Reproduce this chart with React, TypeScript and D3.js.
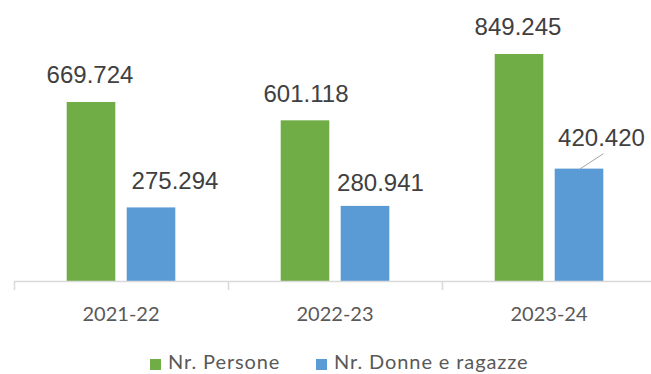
import React from "react";
import * as d3 from "d3";

// Anni scolastici e valori (numero di persone / donne e ragazze)
const categories = ["2021-22", "2022-23", "2023-24"];
const seriesNames = ["Nr. Persone", "Nr. Donne e ragazze"];
const persone = [669724, 601118, 849245];
const donne = [275294, 280941, 420420];

const COLORS = ["#70AD47", "#5B9BD5"];

const W = 651;
const H = 374;
const BASE_Y = 281;

// Spostamenti manuali delle etichette dati (dx dal centro della barra, dy sopra la barra)
const labelNudges = [
  [{ dx: -1, dy: 18.5 }, { dx: 24, dy: 18 }],
  [{ dx: 1, dy: 18 }, { dx: 15.5, dy: 15 }],
  [{ dx: -1, dy: 19 }, { dx: 22.5, dy: 23, leader: true }],
];

const fmt = (v: number) => d3.format(",")(v).replace(/,/g, ".");

export default function App() {
  const x = d3.scaleBand<string>().domain(categories).range([14, 656]);
  const xs = d3
    .scaleBand<string>()
    .domain(seriesNames)
    .range([0, x.bandwidth()])
    .paddingInner(0.19)
    .paddingOuter(0.878);
  const y = d3.scaleLinear().domain([0, 1000000]).range([BASE_Y, BASE_Y - 267.3]);

  const series = [persone, donne];

  return (
    <svg
      width={W}
      height={H}
      style={{ position: "absolute", left: 0, top: 0, background: "#fff" }}
    >
      <rect width={W} height={H} fill="#fff" />
      {categories.map((c, ci) =>
        series.map((vals, si) => {
          const bx = (x(c) ?? 0) + (xs(seriesNames[si]) ?? 0);
          const bw = xs.bandwidth();
          const top = y(vals[ci]);
          const n = labelNudges[ci][si] as { dx: number; dy: number; leader?: boolean };
          const lx = bx + bw / 2 + n.dx;
          const ly = top - n.dy;
          return (
            <g key={`${c}-${si}`}>
              <rect x={bx} y={top} width={bw} height={BASE_Y - top} fill={COLORS[si]} />
              {n.leader && (
                <line
                  x1={lx + 2}
                  y1={ly + 8}
                  x2={bx + bw / 2}
                  y2={top + 1}
                  stroke="#a6a6a6"
                  strokeWidth={1}
                />
              )}
              <text
                x={lx}
                y={ly}
                textAnchor="middle"
                fontFamily="'Liberation Sans', Arial, sans-serif"
                fontSize={24}
                fill="#404040"
              >
                {fmt(vals[ci])}
              </text>
            </g>
          );
        })
      )}
      {/* asse delle categorie */}
      <line x1={14} x2={W} y1={BASE_Y + 0.5} y2={BASE_Y + 0.5} stroke="#d9d9d9" strokeWidth={1.5} />
      {categories.map((c) => (
        <line
          key={`t-${c}`}
          x1={(x(c) ?? 0) + 0.5}
          x2={(x(c) ?? 0) + 0.5}
          y1={BASE_Y}
          y2={BASE_Y + 9}
          stroke="#d9d9d9"
          strokeWidth={1.5}
        />
      ))}
      {categories.map((c) => (
        <text
          key={`l-${c}`}
          x={(x(c) ?? 0) + x.bandwidth() / 2}
          y={321}
          textAnchor="middle"
          fontFamily="Lato, 'Open Sans', sans-serif"
          fontSize={20}
          fill="#595959"
        >
          {c}
        </text>
      ))}
      {/* legenda */}
      {seriesNames.map((s, i) => {
        const lxs = [150, 316][i];
        return (
          <g key={`lg-${s}`}>
            <rect x={lxs} y={359} width={11} height={11} fill={COLORS[i]} />
            <text
              x={lxs + 18}
              y={369}
              fontFamily="Lato, 'Open Sans', sans-serif"
              fontSize={20}
              letterSpacing={0.9}
              fill="#595959"
            >
              {s}
            </text>
          </g>
        );
      })}
    </svg>
  );
}
